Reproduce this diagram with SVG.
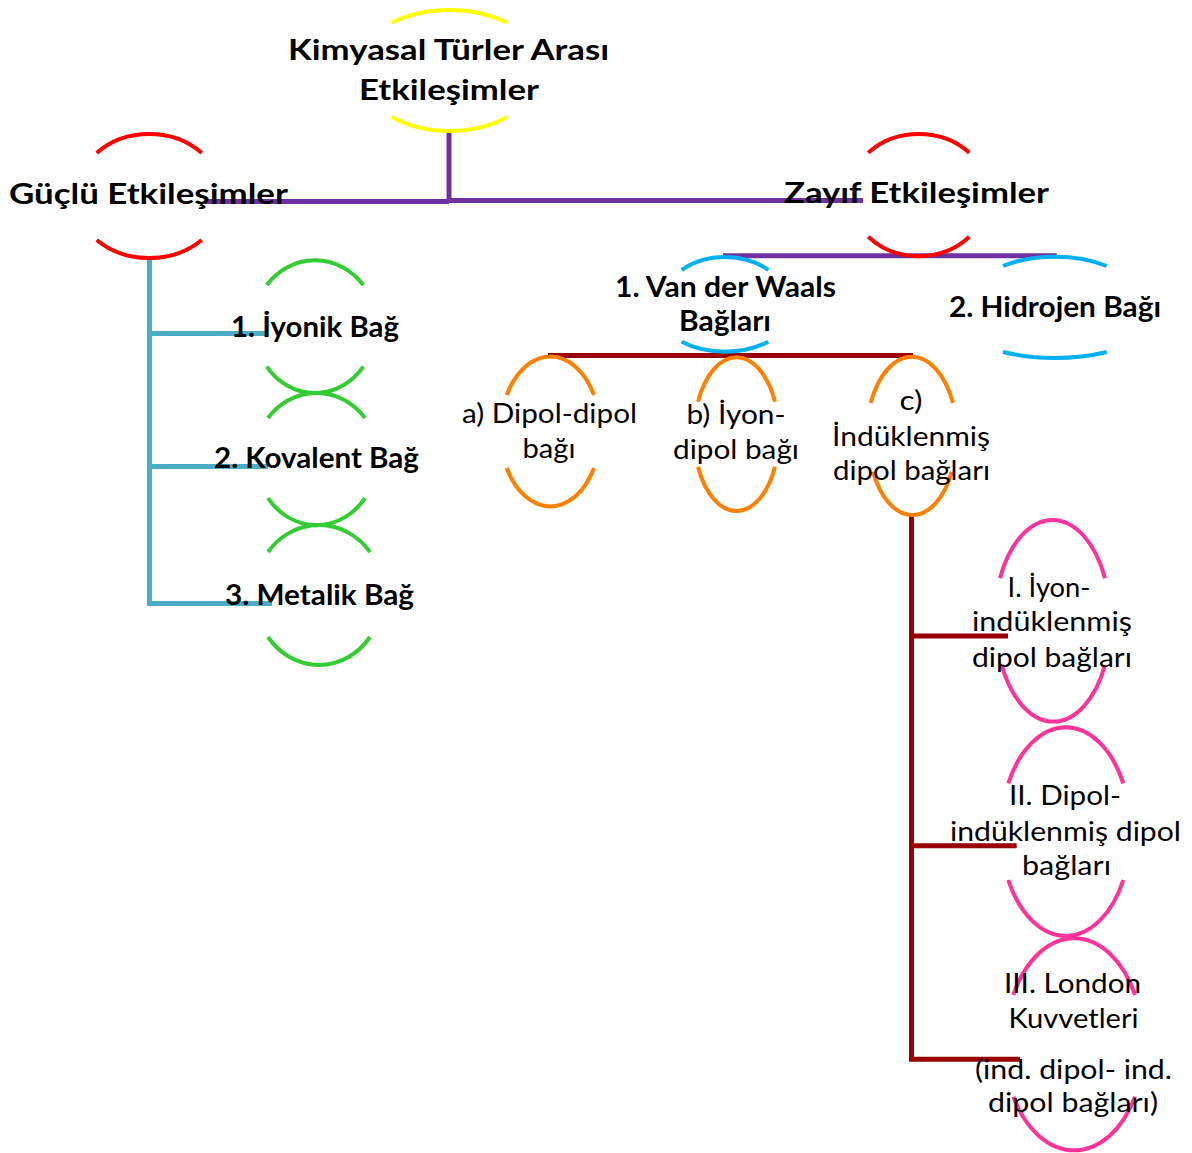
<svg xmlns="http://www.w3.org/2000/svg" width="1192" height="1153" viewBox="0 0 1192 1153">
<style>
.bg{fill:#ffffff}
.arc{fill:none;stroke-width:4}
.yel{stroke:#FFFF00}
.red{stroke:#FF0000}
.grn{stroke:#33CC33}
.blu{stroke:#00B0F0}
.org{stroke:#FF8000}
.pnk{stroke:#FF3399}
.con{fill:none;stroke-width:5;stroke-linecap:butt;stroke-linejoin:miter}
.pur{stroke:#7030A0}
.drd{stroke:#990000}
.stl{stroke:#4BACC6}
text{font-family:Lato,"Noto Sans","Liberation Sans",sans-serif;fill:#000000}
.hb{font-size:29px;font-weight:bold}
.nb{font-size:28px;font-weight:bold}
.rg{font-size:27px;font-weight:normal}
</style>
<rect class="bg" x="0" y="0" width="1192" height="1153"/>
<g id="connectors">
<path class="con pur" d="M205 201.5 H449 M449 131 V201.5 M449 200.5 H863"/>
<path class="con pur" d="M723 255.7 H1056.7"/>
<path class="con stl" d="M149.5 258 V603.5 H272 M149.5 333.5 H268 M149.5 466.5 H268"/>
<path class="con drd" d="M548 355.5 H913"/>
<path class="con drd" d="M911.5 515 V1059.3 H1020 M911.5 636 H1008 M911.5 845.7 H1016.7"/>
</g>
<g id="node-kimyasal">
<path class="arc yel" d="M392 22.7 A93.5 60.5 0 0 1 506.7 22.7"/>
<path class="arc yel" d="M392 117 A89.8 60.5 0 0 0 507 117"/>
<text class="hb" x="288" y="59.5" textLength="321" lengthAdjust="spacingAndGlyphs">Kimyasal Türler Arası</text>
<text class="hb" x="359" y="100" textLength="180" lengthAdjust="spacingAndGlyphs">Etkileşimler</text>
</g>
<g id="node-guclu">
<path class="arc red" d="M96.7 153 A73 62 0 0 1 201.7 153"/>
<path class="arc red" d="M96.7 240 A74.5 62 0 0 0 201.7 240"/>
<text class="hb" x="9" y="204.3" textLength="279" lengthAdjust="spacingAndGlyphs">Güçlü Etkileşimler</text>
</g>
<g id="node-zayif">
<path class="arc red" d="M868.3 152.7 A70 61 0 0 1 969.3 152.7"/>
<path class="arc red" d="M868.3 236.7 A69 61 0 0 0 969.3 236.7"/>
<text class="hb" x="784" y="203.3" textLength="265" lengthAdjust="spacingAndGlyphs">Zayıf Etkileşimler</text>
</g>
<g id="node-iyonik">
<path class="arc grn" d="M266.7 285 A62 66.5 0 0 1 363.3 285"/>
<path class="arc grn" d="M266.7 366.7 A60.6 66.5 0 0 0 363.3 366.7"/>
<text class="nb" x="231" y="336.5" textLength="168" lengthAdjust="spacingAndGlyphs">1. İyonik Bağ</text>
</g>
<g id="node-kovalent">
<path class="arc grn" d="M268 418 A62 66 0 0 1 365 418"/>
<path class="arc grn" d="M268 498 A60 66 0 0 0 365 498"/>
<text class="nb" x="214" y="468" textLength="205" lengthAdjust="spacingAndGlyphs">2. Kovalent Bağ</text>
</g>
<g id="node-metalik">
<path class="arc grn" d="M268 552 A64.6 70 0 0 1 370 552"/>
<path class="arc grn" d="M268 637 A63.8 70 0 0 0 370 637"/>
<text class="nb" x="225" y="605" textLength="189" lengthAdjust="spacingAndGlyphs">3. Metalik Bağ</text>
</g>
<g id="node-vanderwaals">
<path class="arc blu" d="M681.7 270 A62.8 47.3 0 0 1 768.3 270"/>
<path class="arc blu" d="M681.7 341.7 A70.6 47.3 0 0 0 768.3 341.7"/>
<text class="nb" x="615" y="296.7" textLength="221" lengthAdjust="spacingAndGlyphs">1. Van der Waals</text>
<text class="nb" x="679" y="330.7" textLength="92" lengthAdjust="spacingAndGlyphs">Bağları</text>
</g>
<g id="node-hidrojen">
<path class="arc blu" d="M1003 266 A90 50.7 0 0 1 1106.7 266"/>
<path class="arc blu" d="M1003 352 A110 50.7 0 0 0 1106.7 352"/>
<text class="nb" x="949" y="317" textLength="212" lengthAdjust="spacingAndGlyphs">2. Hidrojen Bağı</text>
</g>
<g id="node-dipol-dipol">
<path class="arc org" d="M506.7 395 A50 75 0 0 1 594 395"/>
<path class="arc org" d="M506.7 468 A50 75 0 0 0 594 468"/>
<text class="rg" x="462" y="423" textLength="175" lengthAdjust="spacingAndGlyphs">a) Dipol-dipol</text>
<text class="rg" x="522.5" y="458" textLength="53" lengthAdjust="spacingAndGlyphs">bağı</text>
</g>
<g id="node-iyon-dipol">
<path class="arc org" d="M698 401.7 A42.5 77 0 0 1 775 401.7"/>
<path class="arc org" d="M698 466.7 A42.5 77 0 0 0 775 466.7"/>
<text class="rg" x="686.5" y="424" textLength="99" lengthAdjust="spacingAndGlyphs">b) İyon-</text>
<text class="rg" x="673" y="459" textLength="126" lengthAdjust="spacingAndGlyphs">dipol bağı</text>
</g>
<g id="node-induklenmis">
<path class="arc org" d="M870.7 403 A45.2 79.2 0 0 1 952.9 403"/>
<path class="arc org" d="M873 471.7 A44.2 79.2 0 0 0 951.8 471.7"/>
<text class="rg" x="899.5" y="410" textLength="23" lengthAdjust="spacingAndGlyphs">c)</text>
<text class="rg" x="832" y="446" textLength="158" lengthAdjust="spacingAndGlyphs">İndüklenmiş</text>
<text class="rg" x="833" y="480" textLength="157" lengthAdjust="spacingAndGlyphs">dipol bağları</text>
</g>
<g id="node-iyon-induklenmis">
<path class="arc pnk" d="M1000 578.3 A57.9 101 0 0 1 1105 578.3"/>
<path class="arc pnk" d="M1001.7 665 A57.5 101 0 0 0 1105 665"/>
<text class="rg" x="1007.5" y="596.7" textLength="83" lengthAdjust="spacingAndGlyphs">I. İyon-</text>
<text class="rg" x="972" y="630.7" textLength="160" lengthAdjust="spacingAndGlyphs">indüklenmiş</text>
<text class="rg" x="972" y="666.7" textLength="160" lengthAdjust="spacingAndGlyphs">dipol bağları</text>
</g>
<g id="node-dipol-induklenmis">
<path class="arc pnk" d="M1008.3 783.3 A65 105 0 0 1 1123.3 783.3"/>
<path class="arc pnk" d="M1008.3 880 A65 105 0 0 0 1123.3 880"/>
<text class="rg" x="1009" y="805" textLength="112" lengthAdjust="spacingAndGlyphs">II. Dipol-</text>
<text class="rg" x="950" y="841" textLength="231" lengthAdjust="spacingAndGlyphs">indüklenmiş dipol</text>
<text class="rg" x="1022" y="875" textLength="89" lengthAdjust="spacingAndGlyphs">bağları</text>
</g>
<g id="node-london">
<path class="arc pnk" d="M1013.3 995 A68.7 106 0 0 1 1135 995"/>
<path class="arc pnk" d="M1013.3 1096.7 A70 106 0 0 0 1135 1096.7"/>
<text class="rg" x="1004" y="993.3" textLength="137" lengthAdjust="spacingAndGlyphs">III. London</text>
<text class="rg" x="1008.5" y="1028.3" textLength="130" lengthAdjust="spacingAndGlyphs">Kuvvetleri</text>
<text class="rg" x="975" y="1079.3" textLength="197" lengthAdjust="spacingAndGlyphs">(ind. dipol- ind.</text>
<text class="rg" x="988" y="1111.7" textLength="170" lengthAdjust="spacingAndGlyphs">dipol bağları)</text>
</g>
</svg>
